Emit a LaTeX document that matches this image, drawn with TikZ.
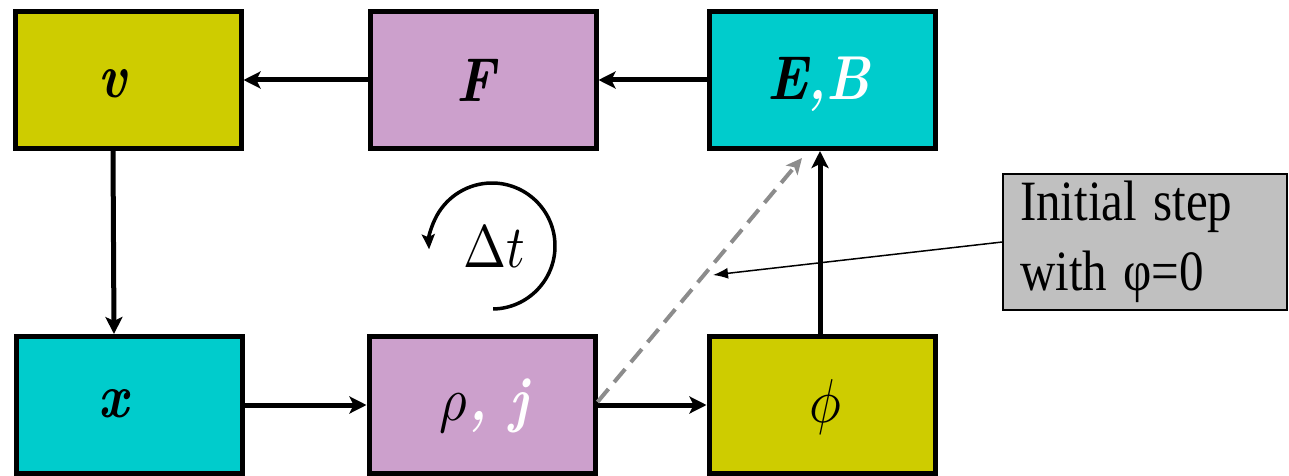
\documentclass[tikz,border=0pt]{standalone}
\usepackage{fontspec}
\usepackage{unicode-math}
\setmathfont{Latin Modern Math}
\usepackage{graphicx}
\newfontfamily\timesf{Liberation Serif}
\usetikzlibrary{arrows.meta,calc}
\definecolor{boxyellow}{RGB}{206,204,0}
\definecolor{boxcyan}{RGB}{0,204,204}
\definecolor{boxpink}{RGB}{204,160,204}
\definecolor{boxgray}{RGB}{192,192,192}
\definecolor{dashgray}{RGB}{140,140,140}
\newcommand{\sqz}[1]{\scalebox{0.86}[1]{#1}}
\begin{document}
\begin{tikzpicture}[x=1pt,y=-1pt,
  box/.style={draw=black, line width=5pt, minimum width=226pt, minimum height=137pt, inner sep=0pt},
  lbl/.style={inner sep=0pt, font=\fontsize{62}{64}\selectfont\bfseries\itshape},
  mlbl/.style={inner sep=0pt, font=\fontsize{62}{64}\selectfont},
  flow/.style={line width=5pt, -{Stealth[length=17pt,width=17pt,inset=4pt]}},
  dashflow/.style={draw=dashgray, line width=4pt, dash pattern=on 17pt off 9pt, -{Stealth[length=16pt,width=15pt,inset=4pt]}},
  thin/.style={line width=1.5pt, -{Latex[length=15pt,width=11pt]}},
  cyc/.style={line width=3.5pt, -{Stealth[length=15pt,width=13pt,inset=3pt]}}]
\useasboundingbox (0,0) rectangle (1289,476);
% boxes
\node[box, fill=boxyellow] (v)    at (128,80)  {};
\node[box, fill=boxpink]   (F)    at (483,80)  {};
\node[box, fill=boxcyan]   (EB)   at (822,80)  {};
\node[box, fill=boxcyan]   (x)    at (129,405) {};
\node[box, fill=boxpink]   (rhoj) at (482,405) {};
\node[box, fill=boxyellow] (phi)  at (822,405) {};
% labels
\node[lbl] (vl)   at (113,84)  {\sqz{v}};
\node[lbl] (Fl)   at (476,80)  {\sqz{F}};
\node[lbl] (EBl)  at (819,84)  {\sqz{E\textcolor{white}{,B}}};
\node[lbl] (xl)   at (113,404) {\sqz{x}};
\node[mlbl] (rl)  at (484,406) {\sqz{$\rho$\textcolor{white}{\bfseries\itshape, j}}};
\node[mlbl] (pl)  at (826,407) {\sqz{$\phi$}};
% gray annotation
\node[draw=black, line width=1.5pt, fill=boxgray, minimum width=284pt, minimum height=136pt,
      text width=250pt, align=left, inner xsep=17pt, inner ysep=0pt,
      font=\timesf\fontsize{57}{70}\selectfont] (note) at (1145,242)
      {\sqz{Initial step}\\\sqz{with φ=0}};
% connectors
\draw[flow] (F.west) -- (v.east);
\draw[flow] (EB.west) -- (F.east);
\draw[flow] ([xshift=-15pt]v.south) -- ([xshift=-15pt]x.north);
\draw[flow] (x.east) -- (rhoj.east -| rhoj.west);
\draw[flow] (rhoj.east) -- (phi.west);
\draw[flow] ([xshift=-2pt]phi.north) -- ([xshift=-2pt]EB.south);
\coordinate (dtip) at (802,158);
\draw[dashflow] ([yshift=3pt]rhoj.east) -- (dtip);
\coordinate (ntip) at (713,275);
\draw[thin] (note.west) -- (ntip);
% time-step cycle
\coordinate (dtc) at (492,246);
\draw[cyc] (dtc) ++(89:63) arc[start angle=89, end angle=-183, radius=63];
\node[mlbl, font=\fontsize{60}{62}\selectfont] (dt) at (494,246) {\sqz{$\Delta t$}};
\end{tikzpicture}
\end{document}
